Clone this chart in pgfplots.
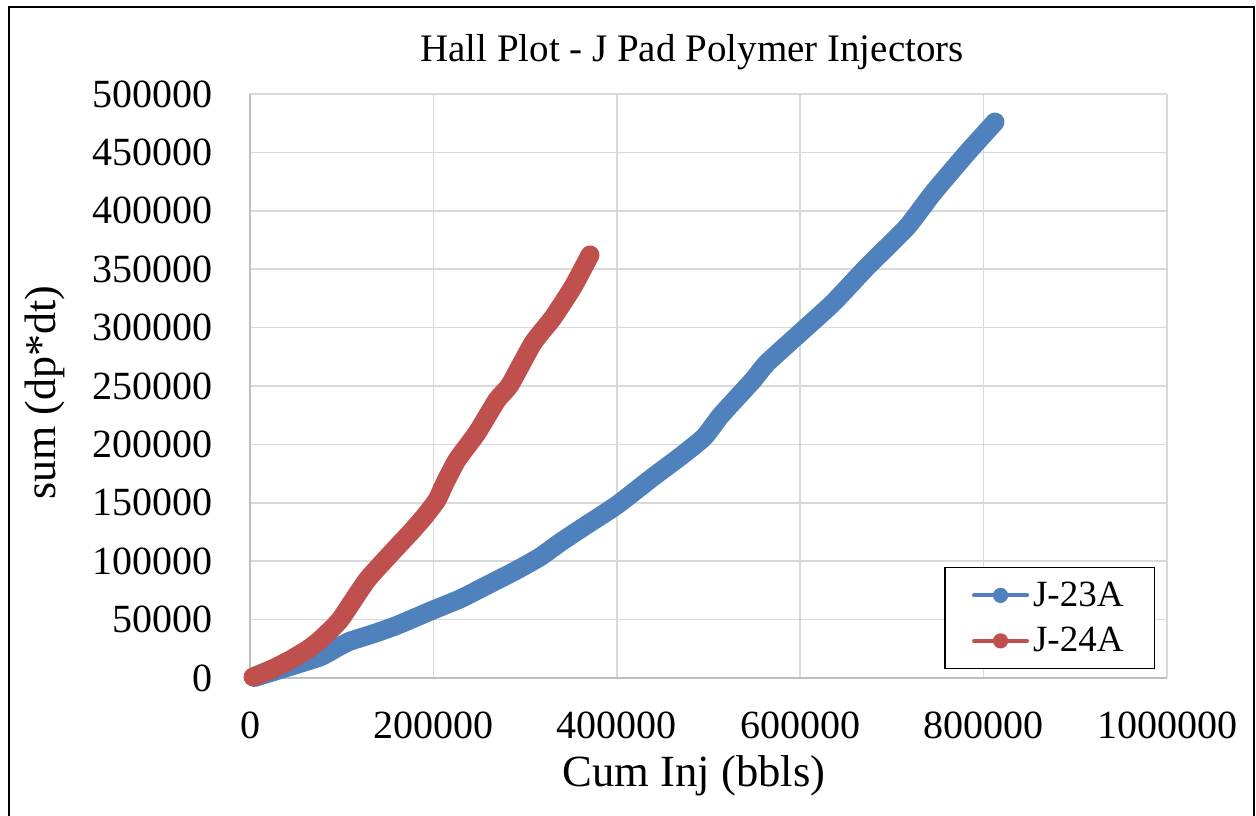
\documentclass[border=0pt]{standalone}
\usepackage{pgfplots}
\pgfplotsset{compat=1.18}
\usepackage{fontspec}
\setmainfont{Liberation Serif}
\definecolor{serblue}{HTML}{4F81BD}
\definecolor{serred}{HTML}{C0504D}
\definecolor{gridc}{HTML}{D9D9D9}
\definecolor{axisc}{HTML}{BFBFBF}
\begin{document}
\begin{tikzpicture}[x=0.5pt,y=0.5pt]
\useasboundingbox (0,0) rectangle (1256,815);
\draw[line width=1pt,black] (9,-10) -- (9,808) -- (1254,808) -- (1254,-10);
\begin{axis}[
  at={(125pt,68.5pt)}, anchor=south west,
  scale only axis, width=458.5pt, height=292pt,
  xmin=0, xmax=1000000, ymin=0, ymax=500000,
  xtick={0,200000,400000,600000,800000,1000000},
  ytick={0,50000,100000,150000,200000,250000,300000,350000,400000,450000,500000},
  scaled ticks=false,
  xticklabel style={/pgf/number format/fixed,/pgf/number format/1000 sep={}},
  yticklabel style={/pgf/number format/fixed,/pgf/number format/1000 sep={}},
  /pgf/number format/assume math mode=true,
  x tick label style={font=\fontsize{20pt}{22pt}\selectfont, inner sep=0pt, anchor=center, yshift=-23.5pt},
  y tick label style={font=\fontsize{20pt}{22pt}\selectfont, inner sep=0pt, anchor=east, xshift=-18.5pt},
  major tick length=0pt,
  grid=major,
  grid style={draw=gridc, line width=0.75pt},
  axis lines=left,
  axis line style={-, draw=axisc, line width=0.75pt},
  legend style={at={(0.987,0.190)}, anchor=north east, draw=black, line width=0.6pt, fill=white,
    font=\fontsize{18.5pt}{20pt}\selectfont, inner xsep=13.5pt, inner ysep=5pt, row sep=5pt,
    /tikz/every even column/.append style={column sep=2pt}},
  legend cell align=left,
  clip=false,
]
\addplot[serblue, line width=9.5pt, line cap=round, line join=round, smooth, tension=0.3,
  legend image code/.code={\draw[serblue, line width=2pt, line cap=round] (0pt,0pt) -- (26.5pt,0pt); \path[fill=serblue, draw=none] (13.25pt,0pt) circle (3.8pt);}]
coordinates {
(5000,500) (40000,9000) (76300,18000) (95000,26000) (109000,31500) (135000,38000) (160000,45000) (199600,58200) (230000,68000) (260000,80000) (290000,92000) (316200,103600) (340000,117000) (365000,130000) (400200,148100) (439500,172100) (470000,190000) (495000,206000) (512500,224000) (531000,240000) (548500,255000) (563800,269700) (599800,295400) (635800,321100) (672800,351900) (716500,386100) (744800,415200) (781900,449500) (812400,476000)
};
\addlegendentry{J-23A}
\addplot[serred, line width=9.5pt, line cap=round, line join=round, smooth, tension=0.3,
  legend image code/.code={\draw[serred, line width=2pt, line cap=round] (0pt,0pt) -- (26.5pt,0pt); \path[fill=serred, draw=none] (13.25pt,0pt) circle (3.8pt);}]
coordinates {
(3300,900) (25000,8000) (43600,15400) (62000,24000) (76300,32500) (98100,49700) (127600,83900) (160300,112200) (174500,124100) (190000,138000) (203900,152400) (212000,166000) (225700,186600) (247500,209800) (269300,238000) (283500,251000) (308600,286800) (330400,308500) (352200,334800) (370800,362200)
};
\addlegendentry{J-24A}
\end{axis}
\node[font=\fontsize{19.5pt}{21pt}\selectfont] at (692,763) {Hall Plot - J Pad Polymer Injectors};
\node[font=\fontsize{22.3pt}{24pt}\selectfont] at (694,39) {Cum Inj (bbls)};
\node[font=\fontsize{22pt}{24pt}\selectfont, rotate=90] at (45,422) {sum (dp*dt)};
\end{tikzpicture}
\end{document}
